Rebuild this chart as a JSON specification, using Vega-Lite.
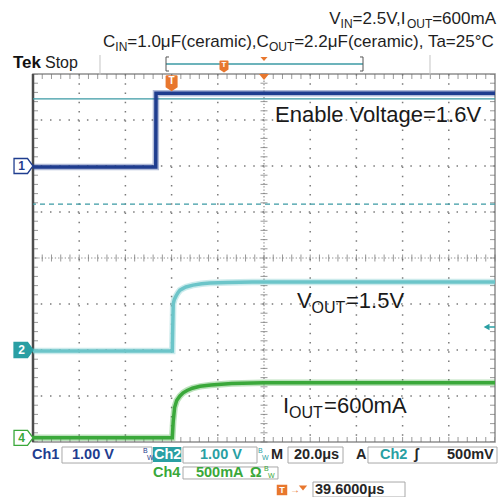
{
  "$schema": "https://vega.github.io/schema/vega-lite/v6.json",
  "width": 462,
  "height": 368,
  "autosize": {"type": "none"},
  "padding": {"left": 33, "top": 74, "right": 7, "bottom": 55},
  "background": "white",
  "config": {
    "view": {"stroke": "#8f8f8f", "strokeWidth": 1.5},
    "font": "Liberation Sans",
    "text": {"font": "Liberation Sans"}
  },
  "resolve": {"scale": {"color": "independent", "stroke": "independent"}},
  "datasets": {
    "vgrid": [{"t": -40}, {"t": -20}, {"t": 0}, {"t": 20}, {"t": 60}, {"t": 80}, {"t": 100}, {"t": 120}],
    "hgrid": [{"d": -3}, {"d": -2}, {"d": -1}, {"d": 1}, {"d": 2}, {"d": 3}],
    "xt": [
      {"t": -60}, {"t": -56}, {"t": -52}, {"t": -48}, {"t": -44}, {"t": -40}, {"t": -36}, {"t": -32}, {"t": -28}, {"t": -24},
      {"t": -20}, {"t": -16}, {"t": -12}, {"t": -8}, {"t": -4}, {"t": 0}, {"t": 4}, {"t": 8}, {"t": 12}, {"t": 16},
      {"t": 20}, {"t": 24}, {"t": 28}, {"t": 32}, {"t": 36}, {"t": 40}, {"t": 44}, {"t": 48}, {"t": 52}, {"t": 56},
      {"t": 60}, {"t": 64}, {"t": 68}, {"t": 72}, {"t": 76}, {"t": 80}, {"t": 84}, {"t": 88}, {"t": 92}, {"t": 96},
      {"t": 100}, {"t": 104}, {"t": 108}, {"t": 112}, {"t": 116}, {"t": 120}, {"t": 124}, {"t": 128}, {"t": 132}, {"t": 136},
      {"t": 140}
    ],
    "yt": [
      {"d": -4}, {"d": -3.8}, {"d": -3.6}, {"d": -3.4}, {"d": -3.2}, {"d": -3}, {"d": -2.8}, {"d": -2.6}, {"d": -2.4}, {"d": -2.2},
      {"d": -2}, {"d": -1.8}, {"d": -1.6}, {"d": -1.4}, {"d": -1.2}, {"d": -1}, {"d": -0.8}, {"d": -0.6}, {"d": -0.4}, {"d": -0.2},
      {"d": 0}, {"d": 0.2}, {"d": 0.4}, {"d": 0.6}, {"d": 0.8}, {"d": 1}, {"d": 1.2}, {"d": 1.4}, {"d": 1.6}, {"d": 1.8},
      {"d": 2}, {"d": 2.2}, {"d": 2.4}, {"d": 2.6}, {"d": 2.8}, {"d": 3}, {"d": 3.2}, {"d": 3.4}, {"d": 3.6}, {"d": 3.8},
      {"d": 4}
    ],
    "traces": [
      {"ch": "Ch1", "t": -60, "d": 1.98}, {"ch": "Ch1", "t": -6.85, "d": 1.98}, {"ch": "Ch1", "t": -6.75, "d": 3.58}, {"ch": "Ch1", "t": 140, "d": 3.58},
      {"ch": "Ch2", "t": -60, "d": -2.02}, {"ch": "Ch2", "t": 0.3, "d": -2.02}, {"ch": "Ch2", "t": 0.5, "d": -1.5}, {"ch": "Ch2", "t": 0.7, "d": -1.0},
      {"ch": "Ch2", "t": 1.2, "d": -0.9}, {"ch": "Ch2", "t": 1.9, "d": -0.83}, {"ch": "Ch2", "t": 2.7, "d": -0.76}, {"ch": "Ch2", "t": 3.6, "d": -0.7},
      {"ch": "Ch2", "t": 5, "d": -0.66}, {"ch": "Ch2", "t": 6.2, "d": -0.63}, {"ch": "Ch2", "t": 9.3, "d": -0.59}, {"ch": "Ch2", "t": 13, "d": -0.56},
      {"ch": "Ch2", "t": 16.6, "d": -0.545}, {"ch": "Ch2", "t": 24, "d": -0.53}, {"ch": "Ch2", "t": 35, "d": -0.52}, {"ch": "Ch2", "t": 140, "d": -0.52},
      {"ch": "Ch4", "t": -60, "d": -3.91}, {"ch": "Ch4", "t": 0.3, "d": -3.91}, {"ch": "Ch4", "t": 0.7, "d": -3.55}, {"ch": "Ch4", "t": 1.3, "d": -3.25},
      {"ch": "Ch4", "t": 2.2, "d": -3.1}, {"ch": "Ch4", "t": 3.6, "d": -3.0}, {"ch": "Ch4", "t": 5, "d": -2.93}, {"ch": "Ch4", "t": 6.7, "d": -2.88},
      {"ch": "Ch4", "t": 9, "d": -2.83}, {"ch": "Ch4", "t": 12.3, "d": -2.79}, {"ch": "Ch4", "t": 17, "d": -2.76}, {"ch": "Ch4", "t": 26, "d": -2.73},
      {"ch": "Ch4", "t": 40, "d": -2.71}, {"ch": "Ch4", "t": 140, "d": -2.71}
    ],
    "header": [
      {"t": 68.27, "d": 5.087, "txt": "V"},
      {"t": 78.35, "d": 5.087, "txt": "=2.5V,I"},
      {"t": 112.81, "d": 5.087, "txt": "=600mA"},
      {"t": -29.7, "d": 4.587, "txt": "C"},
      {"t": -19.18, "d": 4.587, "txt": "=1.0μF(ceramic),C"},
      {"t": 53.07, "d": 4.587, "txt": "=2.2μF(ceramic), Ta=25°C"}
    ],
    "headerSub": [
      {"t": 73.16, "d": 5.0, "txt": "IN"},
      {"t": 101.86, "d": 5.0, "txt": "OUT"},
      {"t": -24.37, "d": 4.5, "txt": "IN"},
      {"t": 42.12, "d": 4.5, "txt": "OUT"}
    ],
    "notes": [
      {"t": 44.76, "d": 2.957, "txt": "Enable Voltage=1.6V"},
      {"t": 54.29, "d": -1.087, "txt": "V"},
      {"t": 75.5, "d": -1.087, "txt": "=1.5V"},
      {"t": 48.23, "d": -3.377, "txt": "I"},
      {"t": 66.0, "d": -3.377, "txt": "=600mA"}
    ],
    "notesSub": [
      {"t": 60.56, "d": -1.189, "txt": "OUT"},
      {"t": 50.82, "d": -3.485, "txt": "OUT"}
    ],
    "readout": [
      {"t": -60.43, "d": -4.283, "txt": "Ch1", "c": "Ch1"},
      {"t": -43.12, "d": -4.283, "txt": "1.00 V", "c": "Ch1"},
      {"t": -7.6, "d": -4.283, "txt": "Ch2", "c": "sel"},
      {"t": 12.29, "d": -4.283, "txt": "1.00 V", "c": "Ch2"},
      {"t": 43.03, "d": -4.283, "txt": "M", "c": "info"},
      {"t": 52.99, "d": -4.283, "txt": "20.0μs", "c": "info"},
      {"t": 79.83, "d": -4.283, "txt": "A", "c": "info"},
      {"t": 90.22, "d": -4.283, "txt": "Ch2", "c": "Ch2"},
      {"t": 104.94, "d": -4.283, "txt": "ʃ", "c": "info"},
      {"t": 119.22, "d": -4.283, "txt": "500mV", "c": "info"},
      {"t": -8.05, "d": -4.674, "txt": "Ch4", "c": "Ch4"},
      {"t": 10.56, "d": -4.674, "txt": "500mA", "c": "Ch4"},
      {"t": 33.94, "d": -4.674, "txt": "Ω", "c": "Ch4"},
      {"t": 62.08, "d": -5.043, "txt": "39.6000μs", "c": "info"}
    ],
    "bw": [
      {"t": -12.38, "d": -4.239, "txt": "B", "c": "Ch1"},
      {"t": -10.65, "d": -4.391, "txt": "W", "c": "Ch1"},
      {"t": 37.4, "d": -4.239, "txt": "B", "c": "Ch2"},
      {"t": 39.13, "d": -4.391, "txt": "W", "c": "Ch2"},
      {"t": 40.0, "d": -4.63, "txt": "B", "c": "Ch4"},
      {"t": 41.73, "d": -4.783, "txt": "W", "c": "Ch4"}
    ],
    "boxes": [
      {"t": -47.45, "t2": -8.48, "d": -4.109, "d2": -4.457},
      {"t": 4.94, "t2": 36.97, "d": -4.109, "d2": -4.457},
      {"t": 50.39, "t2": 74.2, "d": -4.109, "d2": -4.457},
      {"t": 85.02, "t2": 140.87, "d": -4.109, "d2": -4.457},
      {"t": 4.94, "t2": 46.06, "d": -4.543, "d2": -4.804},
      {"t": 61.21, "t2": 101.04, "d": -4.87, "d2": -5.196}
    ],
    "chanMarks": [
      {"t": -64.1, "d": 2.0, "lab": "1", "c": "Ch1"},
      {"t": -64.1, "d": -2.0, "lab": "2", "c": "Ch2"},
      {"t": -64.1, "d": -3.91, "lab": "4", "c": "Ch4"}
    ]
  },
  "layer": [
    {
      "data": {"name": "vgrid"},
      "mark": {"type": "rule", "color": "#7a7a7a", "strokeDash": [1.5, 7.74], "strokeWidth": 1.5},
      "encoding": {"x": {"field": "t", "type": "quantitative", "scale": {"domain": [-60, 140], "nice": false, "zero": false}, "axis": null}}
    },
    {
      "data": {"name": "hgrid"},
      "mark": {"type": "rule", "color": "#7a7a7a", "strokeDash": [1.5, 7.74], "strokeWidth": 1.5},
      "encoding": {"y": {"field": "d", "type": "quantitative", "scale": {"domain": [-4, 4], "nice": false, "zero": false}, "axis": null}}
    },
    {
      "data": {"values": [{"t": 40}]},
      "mark": {"type": "rule", "color": "#8f8f8f", "strokeDash": [1.3, 2.0], "strokeWidth": 1.2},
      "encoding": {"x": {"field": "t", "type": "quantitative", "axis": null}}
    },
    {
      "data": {"values": [{"d": 0}]},
      "mark": {"type": "rule", "color": "#8f8f8f", "strokeDash": [1.3, 2.0], "strokeWidth": 1.2},
      "encoding": {"y": {"field": "d", "type": "quantitative", "axis": null}}
    },
    {
      "data": {"name": "xt"},
      "mark": {"type": "tick", "orient": "vertical", "size": 7, "thickness": 1, "color": "#6e6e6e"},
      "encoding": {"x": {"field": "t", "type": "quantitative", "axis": null}, "y": {"datum": 0, "type": "quantitative", "axis": null}}
    },
    {
      "data": {"name": "xt"},
      "mark": {"type": "tick", "orient": "vertical", "size": 10, "thickness": 1, "color": "#6e6e6e", "clip": true},
      "encoding": {"x": {"field": "t", "type": "quantitative", "axis": null}, "y": {"datum": 4, "type": "quantitative", "axis": null}}
    },
    {
      "data": {"name": "xt"},
      "mark": {"type": "tick", "orient": "vertical", "size": 10, "thickness": 1, "color": "#6e6e6e", "clip": true},
      "encoding": {"x": {"field": "t", "type": "quantitative", "axis": null}, "y": {"datum": -4, "type": "quantitative", "axis": null}}
    },
    {
      "data": {"name": "yt"},
      "mark": {"type": "tick", "orient": "horizontal", "size": 7, "thickness": 1, "color": "#6e6e6e"},
      "encoding": {"y": {"field": "d", "type": "quantitative", "axis": null}, "x": {"datum": 40, "type": "quantitative", "axis": null}}
    },
    {
      "data": {"name": "yt"},
      "mark": {"type": "tick", "orient": "horizontal", "size": 10, "thickness": 1, "color": "#6e6e6e", "clip": true},
      "encoding": {"y": {"field": "d", "type": "quantitative", "axis": null}, "x": {"datum": -60, "type": "quantitative", "axis": null}}
    },
    {
      "data": {"name": "yt"},
      "mark": {"type": "tick", "orient": "horizontal", "size": 10, "thickness": 1, "color": "#6e6e6e", "clip": true},
      "encoding": {"y": {"field": "d", "type": "quantitative", "axis": null}, "x": {"datum": 140, "type": "quantitative", "axis": null}}
    },
    {
      "data": {"values": [{"t": -60}]},
      "mark": {"type": "rule", "color": "#4d4d4d", "strokeWidth": 2.5},
      "encoding": {"x": {"field": "t", "type": "quantitative", "axis": null}}
    },
    {
      "data": {"values": [{"d": 3.46}]},
      "mark": {"type": "rule", "color": "#3b9aa4", "strokeWidth": 1.3},
      "encoding": {"y": {"field": "d", "type": "quantitative", "axis": null}}
    },
    {
      "data": {"values": [{"d": 1.17}]},
      "mark": {"type": "rule", "color": "#3b9aa4", "strokeWidth": 1.2, "strokeDash": [5, 4]},
      "encoding": {"y": {"field": "d", "type": "quantitative", "axis": null}}
    },
    {
      "data": {"name": "traces"},
      "mark": {"type": "line", "strokeWidth": 6.5, "opacity": 0.35, "clip": true, "strokeJoin": "miter"},
      "encoding": {
        "x": {"field": "t", "type": "quantitative", "axis": null},
        "y": {"field": "d", "type": "quantitative", "axis": null},
        "color": {"field": "ch", "type": "nominal", "legend": null,
          "scale": {"domain": ["Ch1", "Ch2", "Ch4"], "range": ["#1f3d8f", "#6cc5c9", "#3aa83a"]}}
      }
    },
    {
      "data": {"name": "traces"},
      "mark": {"type": "line", "strokeWidth": 3.5, "clip": true, "strokeJoin": "miter"},
      "encoding": {
        "x": {"field": "t", "type": "quantitative", "axis": null},
        "y": {"field": "d", "type": "quantitative", "axis": null},
        "color": {"field": "ch", "type": "nominal", "legend": null,
          "scale": {"domain": ["Ch1", "Ch2", "Ch4"], "range": ["#1f3d8f", "#6cc5c9", "#3aa83a"]}}
      }
    },
    {
      "data": {"values": [{"t": 137.5, "t2": 140, "d": -1.5}]},
      "mark": {"type": "rule", "color": "#2a9fa3", "strokeWidth": 1.5},
      "encoding": {"x": {"field": "t", "type": "quantitative", "axis": null}, "x2": {"field": "t2"}, "y": {"field": "d", "type": "quantitative", "axis": null}}
    },
    {
      "data": {"values": [{"t": 136.54, "d": -1.5}]},
      "mark": {"type": "point", "shape": "M-0.8,0L0.6,-0.8L0.6,0.8Z", "filled": true, "fill": "#2a9fa3", "size": 70, "opacity": 1},
      "encoding": {"x": {"field": "t", "type": "quantitative", "axis": null}, "y": {"field": "d", "type": "quantitative", "axis": null}}
    },
    {
      "data": {"values": [{"t": 40, "d": 3.935}]},
      "mark": {"type": "point", "shape": "M-1,-0.6L1,-0.6L0,0.6Z", "filled": true, "fill": "#e8772e", "size": 100, "opacity": 1},
      "encoding": {"x": {"field": "t", "type": "quantitative", "axis": null}, "y": {"field": "d", "type": "quantitative", "axis": null}}
    },
    {
      "data": {"values": [{"t": 0, "d": 3.8}]},
      "mark": {"type": "point", "shape": "M-0.6,-1L0.6,-1Q0.75,-1 0.75,-0.85L0.75,0.5L0,1L-0.75,0.5L-0.75,-0.85Q-0.75,-1 -0.6,-1Z", "filled": true, "fill": "#e8772e", "size": 256, "opacity": 1},
      "encoding": {"x": {"field": "t", "type": "quantitative", "axis": null}, "y": {"field": "d", "type": "quantitative", "axis": null}}
    },
    {
      "data": {"values": [{"t": 0, "d": 3.85, "txt": "T"}]},
      "mark": {"type": "text", "color": "white", "fontSize": 10, "fontWeight": "bold", "align": "center", "baseline": "middle"},
      "encoding": {"x": {"field": "t", "type": "quantitative", "axis": null}, "y": {"field": "d", "type": "quantitative", "axis": null}, "text": {"field": "txt"}}
    },
    {
      "data": {"name": "chanMarks"},
      "mark": {"type": "point", "shape": "M-1,-0.79L0.42,-0.79L1,0L0.42,0.79L-1,0.79Z", "filled": true, "fill": "white", "size": 361, "strokeWidth": 1.3, "opacity": 1},
      "encoding": {
        "x": {"field": "t", "type": "quantitative", "axis": null},
        "y": {"field": "d", "type": "quantitative", "axis": null},
        "stroke": {"field": "c", "type": "nominal", "legend": null, "scale": {"domain": ["Ch1", "Ch2", "Ch4"], "range": ["#1f3d8f", "#2a9fa3", "#3aa83a"]}}
      }
    },
    {
      "data": {"name": "chanMarks"},
      "transform": [{"filter": "datum.c == 'Ch2'"}],
      "mark": {"type": "point", "shape": "M-1,-0.79L0.42,-0.79L1,0L0.42,0.79L-1,0.79Z", "filled": true, "fill": "#2a9fa3", "size": 361, "opacity": 1},
      "encoding": {"x": {"field": "t", "type": "quantitative", "axis": null}, "y": {"field": "d", "type": "quantitative", "axis": null}}
    },
    {
      "data": {"name": "chanMarks"},
      "mark": {"type": "text", "fontSize": 12, "fontWeight": "bold", "align": "center", "baseline": "middle", "dx": -2},
      "encoding": {
        "x": {"field": "t", "type": "quantitative", "axis": null},
        "y": {"field": "d", "type": "quantitative", "axis": null},
        "text": {"field": "lab"},
        "color": {"field": "c", "type": "nominal", "legend": null, "scale": {"domain": ["Ch1", "Ch2", "Ch4"], "range": ["#1f3d8f", "#ffffff", "#3aa83a"]}}
      }
    },
    {
      "data": {"values": [{"t": -68.66, "d": 4.13, "txt": "Tek"}]},
      "mark": {"type": "text", "fontSize": 17, "fontWeight": "bold", "color": "#111111", "align": "left", "baseline": "alphabetic"},
      "encoding": {"x": {"field": "t", "type": "quantitative", "axis": null}, "y": {"field": "d", "type": "quantitative", "axis": null}, "text": {"field": "txt"}}
    },
    {
      "data": {"values": [{"t": -54.81, "d": 4.13, "txt": "Stop"}]},
      "mark": {"type": "text", "fontSize": 16, "color": "#222222", "align": "left", "baseline": "alphabetic"},
      "encoding": {"x": {"field": "t", "type": "quantitative", "axis": null}, "y": {"field": "d", "type": "quantitative", "axis": null}, "text": {"field": "txt"}}
    },
    {
      "data": {"values": [{"t": -31.0, "d": 4.413, "d2": 3.978}, {"t": 111.86, "d": 4.413, "d2": 3.978}]},
      "mark": {"type": "rule", "color": "#c4c4c4", "strokeWidth": 1},
      "encoding": {"x": {"field": "t", "type": "quantitative", "axis": null}, "y": {"field": "d", "type": "quantitative", "axis": null}, "y2": {"field": "d2"}}
    },
    {
      "data": {"values": [{"t": -2.42, "t2": 82.86, "d": 4.217, "d2": 4.217}]},
      "mark": {"type": "rule", "color": "#3b9aa4", "strokeWidth": 1.5},
      "encoding": {"x": {"field": "t", "type": "quantitative", "axis": null}, "x2": {"field": "t2"}, "y": {"field": "d", "type": "quantitative", "axis": null}, "y2": {"field": "d2"}}
    },
    {
      "data": {"values": [
        {"t": -2.42, "t2": -2.42, "d": 4.37, "d2": 4.065},
        {"t": -2.42, "t2": -1.12, "d": 4.37, "d2": 4.37},
        {"t": -2.42, "t2": -1.12, "d": 4.065, "d2": 4.065},
        {"t": 82.86, "t2": 82.86, "d": 4.37, "d2": 4.065},
        {"t": 81.56, "t2": 82.86, "d": 4.37, "d2": 4.37},
        {"t": 81.56, "t2": 82.86, "d": 4.065, "d2": 4.065}
      ]},
      "mark": {"type": "rule", "color": "#555555", "strokeWidth": 1},
      "encoding": {"x": {"field": "t", "type": "quantitative", "axis": null}, "x2": {"field": "t2"}, "y": {"field": "d", "type": "quantitative", "axis": null}, "y2": {"field": "d2"}}
    },
    {
      "data": {"values": [{"t": 22.68, "d": 4.163}]},
      "mark": {"type": "point", "shape": "M-0.6,-1L0.6,-1Q0.75,-1 0.75,-0.85L0.75,0.5L0,1L-0.75,0.5L-0.75,-0.85Q-0.75,-1 -0.6,-1Z", "filled": true, "fill": "#e8772e", "size": 144, "opacity": 1},
      "encoding": {"x": {"field": "t", "type": "quantitative", "axis": null}, "y": {"field": "d", "type": "quantitative", "axis": null}}
    },
    {
      "data": {"values": [{"t": 22.68, "d": 4.19, "txt": "T"}]},
      "mark": {"type": "text", "color": "white", "fontSize": 8, "fontWeight": "bold", "align": "center", "baseline": "middle"},
      "encoding": {"x": {"field": "t", "type": "quantitative", "axis": null}, "y": {"field": "d", "type": "quantitative", "axis": null}, "text": {"field": "txt"}}
    },
    {
      "data": {"values": [{"t": 40, "d": 4.326}]},
      "mark": {"type": "point", "shape": "M-1,-0.6L1,-0.6L0,0.6Z", "filled": true, "fill": "#e8772e", "size": 50, "opacity": 1},
      "encoding": {"x": {"field": "t", "type": "quantitative", "axis": null}, "y": {"field": "d", "type": "quantitative", "axis": null}}
    },
    {
      "data": {"name": "header"},
      "mark": {"type": "text", "fontSize": 17, "color": "#1e1e1e", "align": "left", "baseline": "alphabetic"},
      "encoding": {"x": {"field": "t", "type": "quantitative", "axis": null}, "y": {"field": "d", "type": "quantitative", "axis": null}, "text": {"field": "txt"}}
    },
    {
      "data": {"name": "headerSub"},
      "mark": {"type": "text", "fontSize": 12, "color": "#1e1e1e", "align": "left", "baseline": "alphabetic"},
      "encoding": {"x": {"field": "t", "type": "quantitative", "axis": null}, "y": {"field": "d", "type": "quantitative", "axis": null}, "text": {"field": "txt"}}
    },
    {
      "data": {"name": "notes"},
      "mark": {"type": "text", "fontSize": 22, "color": "#1a1a1a", "align": "left", "baseline": "alphabetic"},
      "encoding": {"x": {"field": "t", "type": "quantitative", "axis": null}, "y": {"field": "d", "type": "quantitative", "axis": null}, "text": {"field": "txt"}}
    },
    {
      "data": {"name": "notesSub"},
      "mark": {"type": "text", "fontSize": 16, "color": "#1a1a1a", "align": "left", "baseline": "alphabetic"},
      "encoding": {"x": {"field": "t", "type": "quantitative", "axis": null}, "y": {"field": "d", "type": "quantitative", "axis": null}, "text": {"field": "txt"}}
    },
    {
      "data": {"name": "boxes"},
      "mark": {"type": "rect", "fill": "white", "stroke": "#a8a8a8", "strokeWidth": 1},
      "encoding": {"x": {"field": "t", "type": "quantitative", "axis": null}, "x2": {"field": "t2"}, "y": {"field": "d", "type": "quantitative", "axis": null}, "y2": {"field": "d2"}}
    },
    {
      "data": {"values": [{"t": -8.05, "t2": 4.2, "d": -4.109, "d2": -4.435}]},
      "mark": {"type": "rect", "fill": "#2a9fa3"},
      "encoding": {"x": {"field": "t", "type": "quantitative", "axis": null}, "x2": {"field": "t2"}, "y": {"field": "d", "type": "quantitative", "axis": null}, "y2": {"field": "d2"}}
    },
    {
      "data": {"name": "readout"},
      "mark": {"type": "text", "fontSize": 14.5, "fontWeight": "bold", "align": "left", "baseline": "middle"},
      "encoding": {
        "x": {"field": "t", "type": "quantitative", "axis": null},
        "y": {"field": "d", "type": "quantitative", "axis": null},
        "text": {"field": "txt"},
        "color": {"field": "c", "type": "nominal", "legend": null,
          "scale": {"domain": ["Ch1", "Ch2", "Ch4", "info", "sel"], "range": ["#1f3d8f", "#2a9fa3", "#3aa83a", "#262626", "#ffffff"]}}
      }
    },
    {
      "data": {"name": "bw"},
      "mark": {"type": "text", "fontSize": 7, "align": "left", "baseline": "alphabetic"},
      "encoding": {
        "x": {"field": "t", "type": "quantitative", "axis": null},
        "y": {"field": "d", "type": "quantitative", "axis": null},
        "text": {"field": "txt"},
        "color": {"field": "c", "type": "nominal", "legend": null,
          "scale": {"domain": ["Ch1", "Ch2", "Ch4"], "range": ["#1f3d8f", "#2a9fa3", "#3aa83a"]}}
      }
    },
    {
      "data": {"values": [{"t": 47.79, "d": -5.043}]},
      "mark": {"type": "point", "shape": "square", "filled": true, "fill": "#e8772e", "size": 110, "opacity": 1},
      "encoding": {"x": {"field": "t", "type": "quantitative", "axis": null}, "y": {"field": "d", "type": "quantitative", "axis": null}}
    },
    {
      "data": {"values": [{"t": 47.79, "d": -5.043, "txt": "T"}]},
      "mark": {"type": "text", "color": "white", "fontSize": 9, "fontWeight": "bold", "align": "center", "baseline": "middle"},
      "encoding": {"x": {"field": "t", "type": "quantitative", "axis": null}, "y": {"field": "d", "type": "quantitative", "axis": null}, "text": {"field": "txt"}}
    },
    {
      "data": {"values": [{"t": 51.3, "d": -5.043, "txt": "→"}]},
      "mark": {"type": "text", "color": "#e8772e", "fontSize": 10, "align": "left", "baseline": "middle"},
      "encoding": {"x": {"field": "t", "type": "quantitative", "axis": null}, "y": {"field": "d", "type": "quantitative", "axis": null}, "text": {"field": "txt"}}
    },
    {
      "data": {"values": [{"t": 56.88, "d": -5.0}]},
      "mark": {"type": "point", "shape": "M-1,-0.6L1,-0.6L0,0.6Z", "filled": true, "fill": "#e8772e", "size": 70, "opacity": 1},
      "encoding": {"x": {"field": "t", "type": "quantitative", "axis": null}, "y": {"field": "d", "type": "quantitative", "axis": null}}
    }
  ]
}
